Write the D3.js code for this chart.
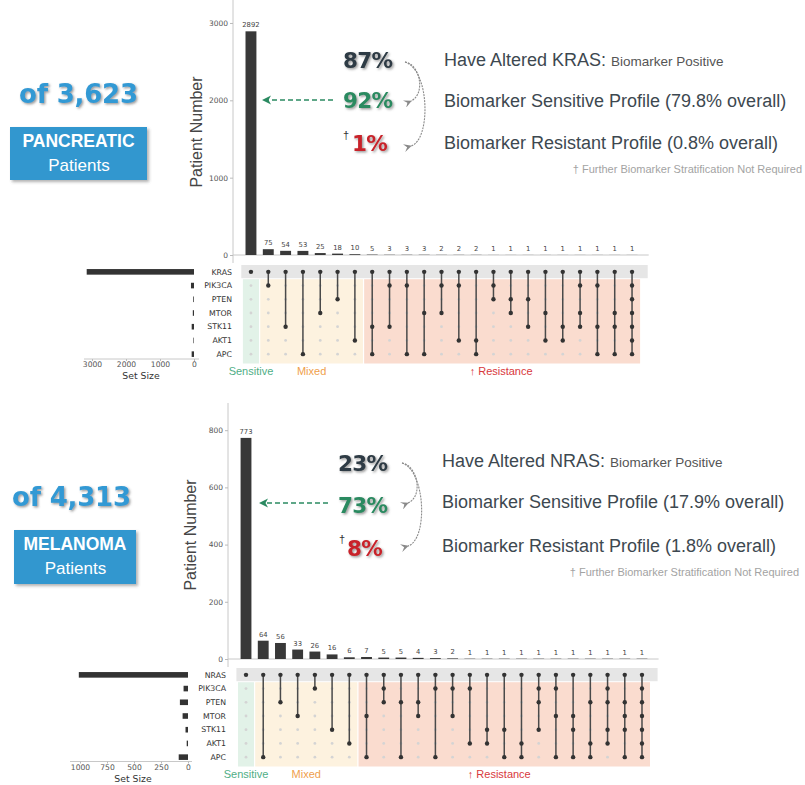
<!DOCTYPE html>
<html>
<head>
<meta charset="utf-8">
<script src="https://cdn.jsdelivr.net/npm/d3@7"></script>
<style>
  html, body { margin: 0; padding: 0; background: #fff; }
  svg { display: block; }
</style>
</head>
<body>
<svg id="chart" width="805" height="785"></svg>
<script>
// ---------------- Pancreatic cohort (KRAS driver) ----------------
const pancSets = ["KRAS", "PIK3CA", "PTEN", "MTOR", "STK11", "AKT1", "APC"];
const pancCounts = [2892, 75, 54, 53, 25, 18, 10, 5, 3, 3, 3, 2, 2, 2, 1, 1, 1, 1, 1, 1, 1, 1, 1];
// co-altered genes in each intersection (every intersection also contains KRAS)
const pancMembers = [
  [], ["PIK3CA"], ["STK11"], ["APC"], ["MTOR"], ["PTEN"], ["AKT1"],
  ["STK11", "APC"], ["PIK3CA", "STK11"], ["PIK3CA", "APC"], ["MTOR", "APC"],
  ["PIK3CA", "MTOR"], ["PIK3CA", "AKT1"], ["AKT1", "APC"], ["PIK3CA", "PTEN"],
  ["PTEN", "MTOR"], ["PTEN", "STK11"], ["MTOR", "AKT1"], ["STK11", "AKT1"],
  ["PIK3CA", "MTOR", "STK11"], ["PIK3CA", "STK11", "APC"], ["MTOR", "STK11", "APC"],
  ["PIK3CA", "PTEN", "MTOR", "STK11", "AKT1", "APC"]
];
const pancSetSizes = [3156, 89, 22, 35, 68, 17, 69];
const pancGroupSizes = [1, 6, 16];
const pancCountTicks = [0, 1000, 2000, 3000];
const pancSizeTicks = [3000, 2000, 1000, 0];
const pancHeadline = ["of 3,623", "PANCREATIC", "Patients"];
const pancPercents = ["87%", "92%", "1%"];
const pancStatements = ["Have Altered KRAS:", "Biomarker Positive",
  "Biomarker Sensitive Profile (79.8% overall)", "Biomarker Resistant Profile (0.8% overall)"];

// ---------------- Melanoma cohort (NRAS driver) ----------------
const melSets = ["NRAS", "PIK3CA", "PTEN", "MTOR", "STK11", "AKT1", "APC"];
const melCounts = [773, 64, 56, 33, 26, 16, 6, 7, 5, 5, 4, 3, 2, 1, 1, 1, 1, 1, 1, 1, 1, 1, 1, 1];
const melMembers = [
  [], ["APC"], ["PTEN"], ["MTOR"], ["PIK3CA"], ["STK11"], ["AKT1"],
  ["MTOR", "APC"], ["PIK3CA", "PTEN"], ["PTEN", "APC"], ["PTEN", "MTOR"],
  ["PIK3CA", "APC"], ["PIK3CA", "MTOR"], ["PIK3CA", "AKT1"], ["STK11", "AKT1"],
  ["STK11", "APC"], ["AKT1", "APC"], ["PIK3CA", "PTEN", "STK11"],
  ["PIK3CA", "MTOR", "APC"], ["MTOR", "STK11", "APC"], ["PTEN", "AKT1", "APC"],
  ["PIK3CA", "PTEN", "STK11", "AKT1"], ["PTEN", "MTOR", "STK11", "APC"],
  ["PIK3CA", "PTEN", "MTOR", "STK11", "AKT1", "APC"]
];
const melSetSizes = [1011, 41, 75, 50, 23, 12, 86];
const melGroupSizes = [1, 6, 17];
const melCountTicks = [0, 200, 400, 600, 800];
const melSizeTicks = [1000, 750, 500, 250, 0];
const melHeadline = ["of 4,313", "MELANOMA", "Patients"];
const melPercents = ["23%", "73%", "8%"];
const melStatements = ["Have Altered NRAS:", "Biomarker Positive",
  "Biomarker Sensitive Profile (17.9% overall)", "Biomarker Resistant Profile (1.8% overall)"];

// shared
const groupNames = ["Sensitive", "Mixed", "\u2191 Resistance"];
const footnote = "\u2020 Further Biomarker Stratification Not Required";

// ---------------- styling ----------------
const MONO = "'DejaVu Sans', sans-serif";
const SANS = "'Liberation Sans', Arial, sans-serif";
const groupFill = ["#e2f2e8", "#fdf2df", "#fadccf"];
const groupText = ["#4fae86", "#efa04c", "#d8383c"];
const pctColors = ["#2d3b44", "#2b8a61", "#c8242b"];

const svg = d3.select("#chart");
const defs = svg.append("defs");

defs.append("filter").attr("id", "txtShadow")
  .attr("x", "-10%").attr("y", "-10%").attr("width", "130%").attr("height", "140%")
  .append("feDropShadow").attr("dx", 1.4).attr("dy", 1.4).attr("stdDeviation", 0.8)
  .attr("flood-color", "#555").attr("flood-opacity", 0.6);
defs.append("filter").attr("id", "boxShadow")
  .attr("x", "-10%").attr("y", "-10%").attr("width", "125%").attr("height", "135%")
  .append("feDropShadow").attr("dx", 2).attr("dy", 2).attr("stdDeviation", 1.6)
  .attr("flood-color", "#555").attr("flood-opacity", 0.45);

defs.append("marker").attr("id", "greyHead")
  .attr("viewBox", "0 0 10 10").attr("refX", 1).attr("refY", 5)
  .attr("markerWidth", 8).attr("markerHeight", 8).attr("markerUnits", "userSpaceOnUse")
  .attr("orient", "auto")
  .append("path").attr("d", "M10,0 L0,5 L10,10 L6,5 Z").attr("fill", "#8a8a8a");

function drawPanel(d, L) {
  const g = svg.append("g");

  // ----- intersection bars -----
  const x = d3.scaleBand().domain(d3.range(d.counts.length))
    .range(L.xRange).paddingInner(0.37).paddingOuter(0.185);
  const y = d3.scaleLinear().domain(L.yDomain).range(L.yRange);

  g.append("line").attr("x1", L.axisX).attr("x2", L.axisX)
    .attr("y1", L.yRange[1]).attr("y2", L.yRange[0] + 8)
    .attr("stroke", "#c8c8c8").attr("stroke-width", 1);
  g.append("line").attr("x1", L.axisX).attr("x2", L.xRange[1] + 8)
    .attr("y1", y(0)).attr("y2", y(0))
    .attr("stroke", "#c8c8c8").attr("stroke-width", 1);

  const yAxis = g.append("g").attr("transform", `translate(${L.axisX},0)`)
    .call(d3.axisLeft(y).tickValues(d.countTicks).tickSize(3).tickPadding(2).tickFormat(d3.format("d")));
  yAxis.select(".domain").remove();
  yAxis.selectAll(".tick line").attr("stroke", "#bbb");
  yAxis.selectAll(".tick text").attr("font-family", MONO).attr("font-size", 7.5).attr("fill", "#555");

  g.selectAll("rect.bar").data(d.counts).join("rect").attr("class", "bar")
    .attr("x", (v, i) => x(i)).attr("width", x.bandwidth())
    .attr("y", v => y(v)).attr("height", v => y(0) - y(v))
    .attr("fill", "#383838");
  g.selectAll("text.barLabel").data(d.counts).join("text").attr("class", "barLabel")
    .attr("x", (v, i) => x(i) + x.bandwidth() / 2).attr("y", v => y(v) - 4)
    .attr("text-anchor", "middle").attr("font-family", MONO).attr("font-size", 6.8)
    .attr("fill", "#444").text(v => v);

  g.append("text")
    .attr("transform", `translate(${L.yTitle[0]},${L.yTitle[1]}) rotate(-90)`)
    .attr("text-anchor", "middle").attr("dominant-baseline", "central")
    .attr("font-family", SANS).attr("font-size", 16).attr("fill", "#454545")
    .text("Patient Number");

  // ----- matrix -----
  const r = d3.scaleBand().domain(d.sets).range(L.rowRange);
  const rc = s => r(s) + r.bandwidth() / 2;

  // group shading
  let start = 0;
  d.groupSizes.forEach((n, gi) => {
    const x0 = x(start) - x.step() * 0.185 + 0.6;
    const x1 = x(start + n - 1) + x.bandwidth() + x.step() * 0.185 - 0.6;
    g.append("rect").attr("x", x0).attr("y", r(d.sets[1]) + 0.5)
      .attr("width", x1 - x0).attr("height", L.rowRange[1] - r(d.sets[1]) + 2)
      .attr("fill", groupFill[gi]);
    g.append("text").attr("x", (x0 + x1) / 2 + L.groupShift[gi]).attr("y", L.groupLabelY)
      .attr("text-anchor", "middle").attr("font-family", SANS).attr("font-size", 11)
      .attr("fill", groupText[gi]).text(groupNames[gi]);
    start += n;
  });

  // driver row band
  g.append("rect").attr("x", L.xRange[0] - 1).attr("y", r(d.sets[0]))
    .attr("width", L.xRange[1] - L.xRange[0] + 8).attr("height", r.bandwidth() - 0.5)
    .attr("fill", "#e6e6e6");

  // row labels
  g.selectAll("text.rowLabel").data(d.sets).join("text").attr("class", "rowLabel")
    .attr("x", L.rowLabelX).attr("y", s => rc(s)).attr("dy", "0.35em")
    .attr("text-anchor", "end").attr("font-family", MONO).attr("font-size", 7.8)
    .attr("fill", "#333").text(s => s);

  // dots and connecting lines
  d.counts.forEach((v, i) => {
    const cx = x(i) + x.bandwidth() / 2;
    const members = [d.sets[0]].concat(d.members[i]);
    d.sets.forEach(s => {
      if (!members.includes(s)) {
        g.append("circle").attr("cx", cx).attr("cy", rc(s)).attr("r", 1.4).attr("fill", "#d4d4d4");
      }
    });
    const lowest = d3.max(members, s => d.sets.indexOf(s));
    if (lowest > 0) {
      g.append("line").attr("x1", cx).attr("x2", cx)
        .attr("y1", rc(d.sets[0])).attr("y2", rc(d.sets[lowest]))
        .attr("stroke", "#4a4a4a").attr("stroke-width", 1.5);
    }
    members.forEach(s => {
      g.append("circle").attr("cx", cx).attr("cy", rc(s)).attr("r", 2.2).attr("fill", "#333");
    });
  });

  // ----- set sizes -----
  const sx = d3.scaleLinear().domain(L.sizeDomain).range(L.sizeRange);
  g.selectAll("rect.size").data(d.setSizes).join("rect").attr("class", "size")
    .attr("x", v => sx(v)).attr("width", v => sx(0) - sx(v))
    .attr("y", (v, i) => rc(d.sets[i]) - 2.8).attr("height", 5.6)
    .attr("fill", "#333");
  const sAxis = g.append("g").attr("transform", `translate(0,${L.sizeAxisY})`)
    .call(d3.axisBottom(sx).tickValues(d.sizeTicks).tickFormat(d3.format("d"))
      .tickSize(2).tickPadding(1).tickSizeOuter(0));
  sAxis.select(".domain").attr("stroke", "#c8c8c8")
    .attr("d", `M${L.sizeLine[0]},0H${L.sizeLine[1]}`);
  sAxis.selectAll(".tick line").attr("stroke", "#bbb");
  sAxis.selectAll(".tick text").attr("font-family", MONO).attr("font-size", 7.6).attr("fill", "#555");
  g.append("text").attr("x", L.sizeTitle[0]).attr("y", L.sizeTitle[1])
    .attr("text-anchor", "middle").attr("font-family", MONO).attr("font-size", 9.3)
    .attr("fill", "#333").text("Set Size");

  // ----- cohort headline -----
  g.append("text").attr("x", L.countPos[0]).attr("y", L.countPos[1])
    .attr("font-family", MONO).attr("font-weight", "bold").attr("font-size", 26)
    .attr("letter-spacing", -0.2)
    .attr("fill", "#3399d4").attr("filter", "url(#txtShadow)").text(d.headline[0]);
  g.append("rect").attr("x", L.box[0]).attr("y", L.box[1]).attr("width", L.box[2]).attr("height", L.box[3])
    .attr("fill", "#3097cf").attr("filter", "url(#boxShadow)");
  const bcx = L.box[0] + L.box[2] / 2;
  g.append("text").attr("x", bcx).attr("y", L.box[1] + 20)
    .attr("text-anchor", "middle").attr("font-family", SANS).attr("font-weight", "bold")
    .attr("font-size", 17.5).attr("fill", "#fff").text(d.headline[1]);
  g.append("text").attr("x", bcx + 0.5).attr("y", L.box[1] + 44)
    .attr("text-anchor", "middle").attr("font-family", SANS)
    .attr("font-size", 17).attr("fill", "#fff").text(d.headline[2]);

  // ----- percentages -----
  d.percents.forEach((p, i) => {
    g.append("text").attr("x", L.pctX[i]).attr("y", L.pctY[i])
      .attr("font-family", MONO).attr("font-weight", "bold").attr("font-size", 21.5)
      .attr("letter-spacing", -0.7)
      .attr("fill", pctColors[i]).attr("filter", "url(#txtShadow)").text(p);
  });
  g.append("text").attr("x", L.dagger[0]).attr("y", L.dagger[1])
    .attr("font-family", SANS).attr("font-size", 11).attr("fill", "#333").text("\u2020");

  // grey curved arrows
  L.curves.forEach(c => {
    g.append("path").attr("d", c).attr("fill", "none")
      .attr("stroke", "#8a8a8a").attr("stroke-width", 1.1)
      .attr("stroke-dasharray", "2,1")
      .attr("marker-end", "url(#greyHead)");
  });
  // green dashed arrow toward the sensitive bar
  g.append("line").attr("x1", L.green[0]).attr("x2", L.green[1] + 6)
    .attr("y1", L.green[2]).attr("y2", L.green[2])
    .attr("stroke", "#2b8a61").attr("stroke-width", 1.7).attr("stroke-dasharray", "5,3");
  g.append("path")
    .attr("d", `M${L.green[1]},${L.green[2]} l9,-4.5 l-2.5,4.5 l2.5,4.5 Z`)
    .attr("fill", "#2b8a61");

  // ----- statements -----
  const t0 = g.append("text").attr("x", L.stmtX).attr("y", L.stmtY[0])
    .attr("font-family", SANS).attr("font-size", 18).attr("fill", "#3d4850");
  t0.append("tspan").text(d.statements[0] + " ");
  t0.append("tspan").attr("font-size", 13.5).attr("fill", "#555").text(d.statements[1]);
  [2, 3].forEach((k, j) => {
    g.append("text").attr("x", L.stmtX).attr("y", L.stmtY[j + 1])
      .attr("font-family", SANS).attr("font-size", 18).attr("fill", "#3d4850")
      .text(d.statements[k]);
  });
  g.append("text").attr("x", L.foot[0]).attr("y", L.foot[1]).attr("text-anchor", "end")
    .attr("font-family", SANS).attr("font-size", 11).attr("fill", "#a3a3a3").text(footnote);
}

drawPanel(
  { sets: pancSets, counts: pancCounts, members: pancMembers, setSizes: pancSetSizes,
    groupSizes: pancGroupSizes, countTicks: pancCountTicks, sizeTicks: pancSizeTicks,
    headline: pancHeadline, percents: pancPercents, statements: pancStatements },
  { xRange: [242.3, 640.7], yDomain: [0, 3297], yRange: [255, 0], axisX: 233,
    yTitle: [196, 132], rowRange: [265, 361], rowLabelX: 232,
    groupLabelY: 375, groupShift: [0, 0, -1],
    sizeDomain: [0, 3000], sizeRange: [194, 92], sizeAxisY: 359, sizeLine: [84, 199],
    sizeTitle: [141, 378.5],
    countPos: [19, 103], box: [10, 127, 137, 53],
    pctX: [343, 343, 352], pctY: [68, 108, 151], dagger: [343, 139],
    curves: ["M405,62 C420,64 426,94 411,101", "M405,62 C430,70 431,140 411,146"],
    green: [333, 262, 100],
    stmtX: 444, stmtY: [66, 107, 149], foot: [802, 173] }
);

drawPanel(
  { sets: melSets, counts: melCounts, members: melMembers, setSizes: melSetSizes,
    groupSizes: melGroupSizes, countTicks: melCountTicks, sizeTicks: melSizeTicks,
    headline: melHeadline, percents: melPercents, statements: melStatements },
  { xRange: [237.4, 650.6], yDomain: [0, 895], yRange: [659, 403], axisX: 228,
    yTitle: [190, 535], rowRange: [668, 764], rowLabelX: 226,
    groupLabelY: 778, groupShift: [0, 0, -5],
    sizeDomain: [0, 1000], sizeRange: [188, 80], sizeAxisY: 761.5, sizeLine: [70, 192],
    sizeTitle: [133, 781.5],
    countPos: [12, 506], box: [14, 530, 122, 54],
    pctX: [338, 338, 347], pctY: [471, 513, 556], dagger: [339, 543],
    curves: ["M402,463 C417,465 424,496 408,503", "M402,463 C426,471 428,540 408,546"],
    green: [328, 259, 503],
    stmtX: 442, stmtY: [467, 508, 552], foot: [799, 576] }
);
</script>
</body>
</html>
